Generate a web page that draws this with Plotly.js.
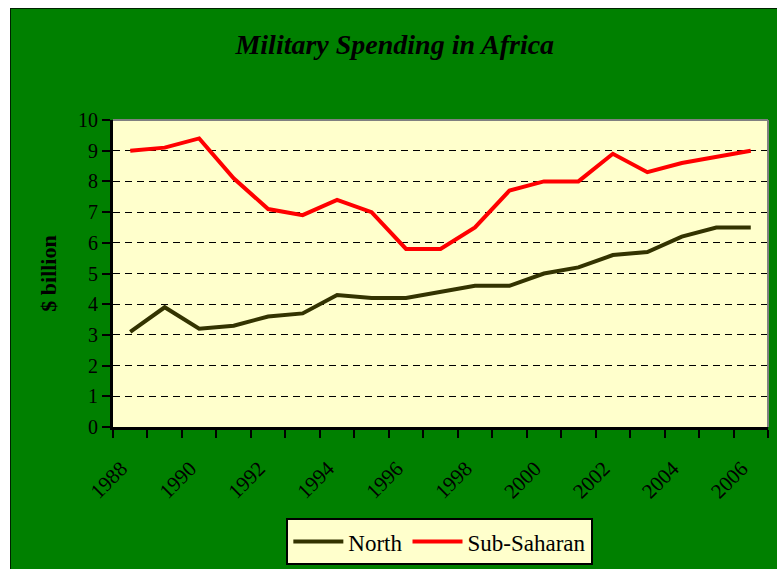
<!DOCTYPE html>
<html>
<head>
<meta charset="utf-8">
<script src="https://cdn.plot.ly/plotly-3.0.1.min.js"></script>
<style>
  html, body { margin: 0; padding: 0; background: #ffffff; }
  #wrap { position: absolute; left: 10px; top: 8px; border-left: 1px solid #002200; border-top: 1px solid #002200; }
  #chart { width: 766px; height: 560px; }
</style>
</head>
<body>
<div id="wrap"><div id="chart"></div></div>
<script>
const years = [1988, 1989, 1990, 1991, 1992, 1993, 1994, 1995, 1996, 1997, 1998, 1999, 2000, 2001, 2002, 2003, 2004, 2005, 2006];
const north = [3.1, 3.9, 3.2, 3.3, 3.6, 3.7, 4.3, 4.2, 4.2, 4.4, 4.6, 4.6, 5.0, 5.2, 5.6, 5.7, 6.2, 6.5, 6.5];
const subSaharan = [9.0, 9.1, 9.4, 8.1, 7.1, 6.9, 7.4, 7.0, 5.8, 5.8, 6.5, 7.7, 8.0, 8.0, 8.9, 8.3, 8.6, 8.8, 9.0];
const labelYears = [1988, 1990, 1992, 1994, 1996, 1998, 2000, 2002, 2004, 2006];
const labelText = ['1988', '1990', '1992', '1994', '1996', '1998', '2000', '2002', '2004', '2006'];

const boundaries = [];
for (let i = 0; i <= years.length; i++) boundaries.push(years[0] - 0.5 + i);

const serif = 'Liberation Serif, Times New Roman, serif';

const traces = [
  { x: years, y: north, name: 'North', type: 'scatter', mode: 'lines',
    line: { color: '#333300', width: 4 } },
  { x: years, y: subSaharan, name: 'Sub-Saharan', type: 'scatter', mode: 'lines',
    line: { color: '#ff0000', width: 4 } }
];

const layout = {
  width: 766, height: 560,
  paper_bgcolor: '#008000',
  plot_bgcolor: '#ffffcc',
  margin: { l: 102, r: 9, t: 111, b: 142 },
  showlegend: true,
  title: { text: '<b><i>Military Spending in Africa</i></b>', xref: 'container', x: 0.501, y: 0.937, yanchor: 'middle',
           font: { family: serif, size: 28, color: '#000000' } },
  xaxis: {
    type: 'linear', range: [years[0] - 0.5, years[years.length - 1] + 0.5], automargin: false,
    tickmode: 'array', tickvals: labelYears, ticktext: labelText, tickangle: -45,
    ticks: '', showgrid: false, zeroline: false,
    ticklabelstandoff: 18, ticklabelshift: -9,
    showline: true, linecolor: '#000000', linewidth: 3,
    tickfont: { family: serif, size: 21, color: '#000000' },
    minor: { tickmode: 'array', tickvals: boundaries, ticks: 'outside', ticklen: 8, tickwidth: 2, tickcolor: '#000000', showgrid: false }
  },
  yaxis: {
    range: [0, 10], tickmode: 'linear', tick0: 0, dtick: 1, automargin: false,
    ticks: 'outside', ticklen: 8, tickwidth: 2, tickcolor: '#000000',
    showgrid: true, gridcolor: '#000000', gridwidth: 1, griddash: '7px,5px',
    zeroline: false, showline: true, linecolor: '#000000', linewidth: 3,
    tickfont: { family: serif, size: 20, color: '#000000' },
    title: { text: '<b>$ billion</b>', standoff: 16, font: { family: serif, size: 22, color: '#000000' } }
  },
  legend: {
    orientation: 'h', xref: 'paper', x: 0.499, xanchor: 'center',
    yref: 'container', y: 0.007, yanchor: 'bottom',
    bgcolor: '#ffffcc', bordercolor: '#000000', borderwidth: 2,
    itemwidth: 50,
    font: { family: serif, size: 23, color: '#000000' }
  },
  shapes: [
    { type: 'line', xref: 'paper', yref: 'paper', x0: 0, x1: 1, y0: 1, y1: 1, line: { color: '#808080', width: 2 }, layer: 'above' },
    { type: 'line', xref: 'paper', yref: 'paper', x0: 1, x1: 1, y0: 0, y1: 1, line: { color: '#808080', width: 2 }, layer: 'above' }
  ]
};

Plotly.newPlot('chart', traces, layout, { displayModeBar: false, staticPlot: true });
</script>
</body>
</html>
